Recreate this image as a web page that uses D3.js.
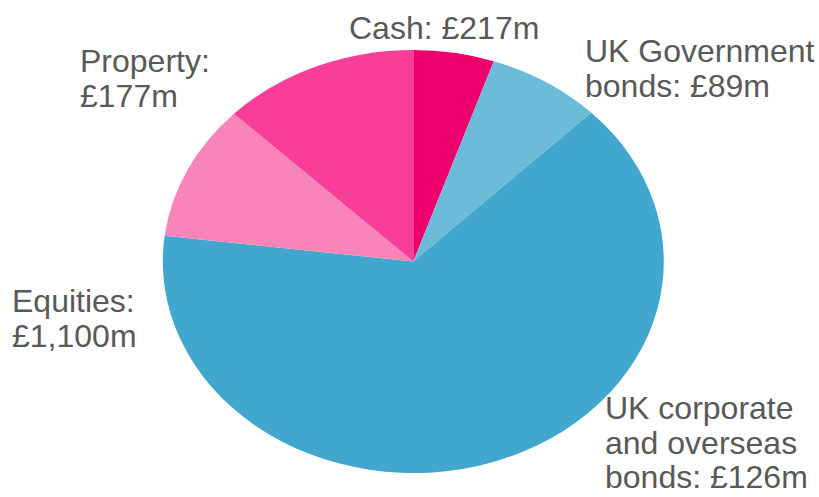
<!DOCTYPE html>
<html>
<head>
<meta charset="utf-8">
<script src="https://cdn.jsdelivr.net/npm/d3@7"></script>
<style>
  html, body { margin: 0; padding: 0; background: #ffffff; }
  svg { display: block; }
  text { font-family: "Liberation Sans", Arial, sans-serif; fill: #595959; }
</style>
</head>
<body>
<svg id="chart" width="819" height="497"></svg>
<script>
// Pension fund assets by type, £m
const categories = ["UK Government bonds", "UK corporate and overseas bonds", "Equities", "Property", "Cash"];
const values = [89, 126, 1100, 177, 217];
const colours = ["#ef006f", "#6cbbd8", "#41a7ce", "#f984ba", "#f83e98"];

// How each category name wraps in its label
const nameLines = [
  ["UK Government", "bonds:"],
  ["UK corporate", "and overseas", "bonds:"],
  ["Equities:"],
  ["Property:"],
  ["Cash:"]
];

// Label placement (left x, first baseline y)
const labelAnchors = [
  [585, 62],
  [605, 419],
  [12, 312],
  [80, 72],
  [349, 39]
];

const width = 819, height = 497;
const cx = 413.3, cy = 261.5, rx = 250.5, ry = 211.5;
const fontSize = 32, lineGap = 34.5;

const svg = d3.select("#chart");
const fmt = v => "£" + d3.format(",")(v) + "m";

const pie = d3.pie().sort(null).startAngle(0).endAngle(2 * Math.PI);
const arcs = pie(values);
const arc = d3.arc().innerRadius(0).outerRadius(rx);

// The pie is drawn as an ellipse: round pie scaled vertically
const g = svg.append("g")
  .attr("transform", `translate(${cx},${cy}) scale(1,${ry / rx})`);

g.selectAll("path")
  .data(arcs)
  .join("path")
  .attr("d", arc)
  .attr("fill", (d, i) => colours[i]);

// Labels: name followed by the formatted value
const labels = svg.append("g");
categories.forEach((c, i) => {
  const lines = nameLines[i].slice();
  const last = lines.length - 1;
  // value goes on the same line as the final name fragment, or its own line
  if (c === "Property" || c === "Equities") {
    lines.push(fmt(values[i]));
  } else {
    lines[last] = lines[last] + " " + fmt(values[i]);
  }
  const [x, y] = labelAnchors[i];
  const t = labels.append("text")
    .attr("x", x)
    .attr("y", y)
    .attr("font-size", fontSize);
  lines.forEach((ln, k) => {
    t.append("tspan")
      .attr("x", x)
      .attr("y", y + k * lineGap)
      .text(ln);
  });
});
</script>
</body>
</html>
